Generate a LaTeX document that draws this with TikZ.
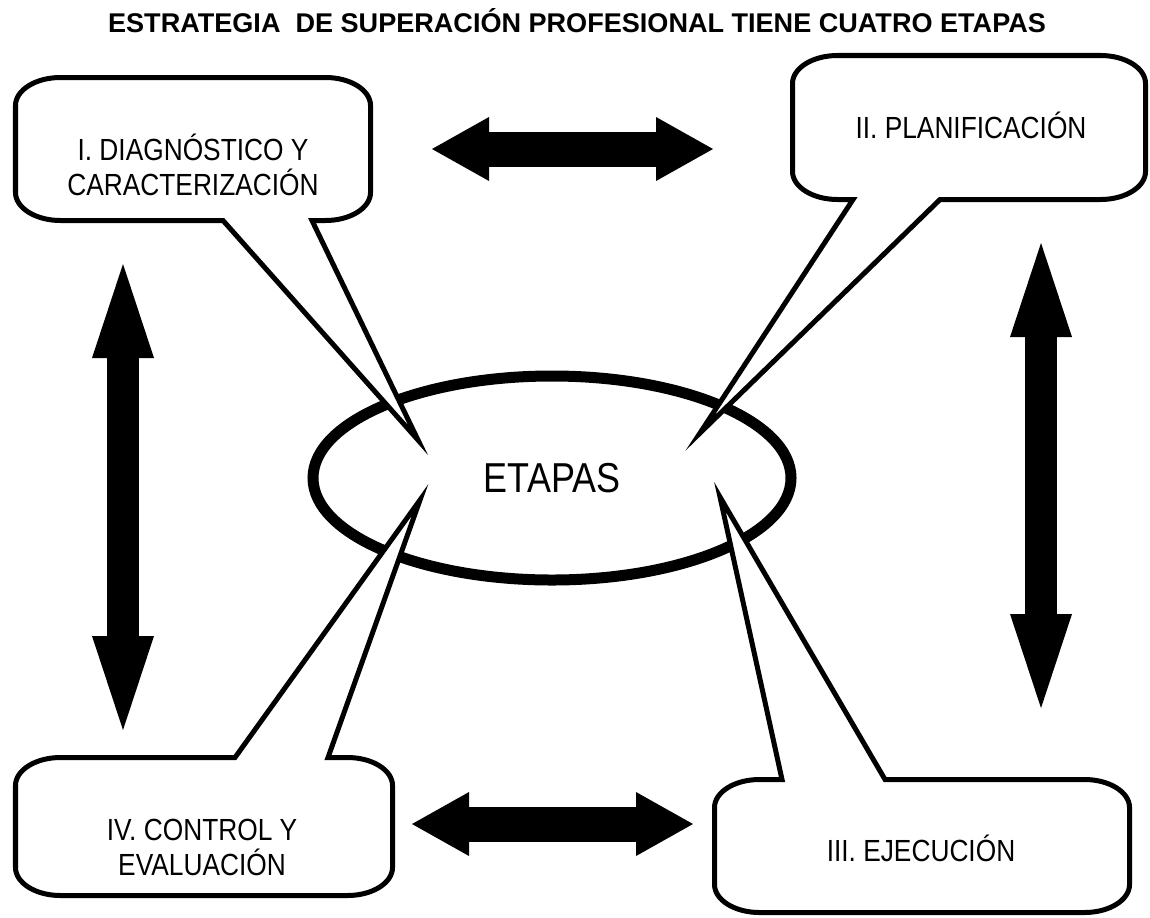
\documentclass[tikz,border=0pt]{standalone}
\usepackage{fontspec}
\setmainfont{Liberation Sans}
\newfontfamily\narrowfont[FakeStretch=0.86]{Liberation Sans}
\usetikzlibrary{arrows.meta,shapes.geometric}

\tikzset{
  callout/.style={draw, fill=white, line width=0.05cm, x radius=0.45cm, y radius=0.28cm},
  stagetext/.style={font=\narrowfont\fontsize{8.7}{10}\selectfont, align=center},
  hbigarrow/.style={line width=0.35cm, arrows={Triangle[length=0.57cm,width=0.64cm,line width=0pt]-Triangle[length=0.57cm,width=0.64cm,line width=0pt]}},
  vbigarrow/.style={line width=0.32cm, arrows={Triangle[length=0.94cm,width=0.62cm,line width=0pt]-Triangle[length=0.94cm,width=0.62cm,line width=0pt]}},
}

\begin{document}
\begin{tikzpicture}
\useasboundingbox (0,0) rectangle (11.5,9.17);

% Title
\node[anchor=base, font=\bfseries\fontsize{7.7}{9}\selectfont] (title) at (5.77,8.84) {ESTRATEGIA~ DE SUPERACIÓN PROFESIONAL TIENE CUATRO ETAPAS};

% Central ellipse
\node[ellipse, draw, fill=white, line width=0.11cm, minimum width=4.78cm, minimum height=2.04cm,
      font=\narrowfont\fontsize{11.9}{14}\selectfont] (etapas) at (5.52,4.39) {ETAPAS};

% Callouts pointing at the ellipse
\draw[callout] (0.155,8.115) arc[start angle=180,end angle=90] -- (3.255,8.395) arc[start angle=90,end angle=0]
  -- (3.705,7.245) arc[start angle=0,end angle=-90] -- (3.12,6.965) -- (4.18,4.77) -- (2.23,6.965)
  -- (0.605,6.965) arc[start angle=270,end angle=180] -- cycle;
\node[stagetext] (diag) at (1.93,7.525) {I. DIAGNÓSTICO Y\\CARACTERIZACIÓN};

\draw[callout] (7.925,8.335) arc[start angle=180,end angle=90] -- (11.005,8.615) arc[start angle=90,end angle=0]
  -- (11.455,7.455) arc[start angle=0,end angle=-90] -- (9.40,7.175) -- (7.00,4.84) -- (8.53,7.175)
  -- (8.375,7.175) arc[start angle=270,end angle=180] -- cycle;
\node[stagetext, anchor=base] (plan) at (9.71,7.79) {II. PLANIFICACIÓN};

\draw[callout] (7.145,1.095) arc[start angle=180,end angle=90] -- (7.82,1.375) -- (7.20,4.20) -- (8.85,1.375)
  -- (10.845,1.375) arc[start angle=90,end angle=0] -- (11.295,0.325) arc[start angle=0,end angle=-90]
  -- (7.595,0.045) arc[start angle=270,end angle=180] -- cycle;
\node[stagetext, anchor=base] (ejec) at (9.21,0.56) {III. EJECUCIÓN};

\draw[callout] (0.155,1.315) arc[start angle=180,end angle=90] -- (2.35,1.595) -- (4.20,4.17) -- (3.28,1.595)
  -- (3.475,1.595) arc[start angle=90,end angle=0] -- (3.925,0.495) arc[start angle=0,end angle=-90]
  -- (0.605,0.215) arc[start angle=270,end angle=180] -- cycle;
\node[stagetext] (ctrl) at (2.02,0.695) {IV. CONTROL Y\\EVALUACIÓN};

% Block arrows between the stages
\coordinate (dp1) at (4.32,7.68);
\coordinate (dp2) at (7.13,7.68);
\coordinate (ce1) at (4.12,0.93);
\coordinate (ce2) at (6.93,0.93);
\coordinate (dc1) at (1.23,6.53);
\coordinate (dc2) at (1.23,1.87);
\coordinate (pe1) at (10.41,6.74);
\coordinate (pe2) at (10.41,2.09);
\draw[hbigarrow] (dp1) -- (dp2);
\draw[hbigarrow] (ce1) -- (ce2);
\draw[vbigarrow] (dc1) -- (dc2);
\draw[vbigarrow] (pe1) -- (pe2);
\end{tikzpicture}
\end{document}
